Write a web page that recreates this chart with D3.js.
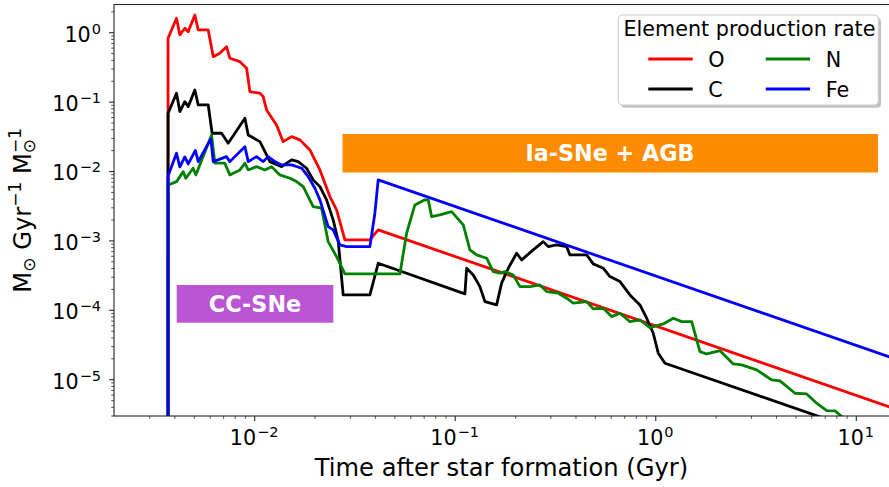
<!DOCTYPE html>
<html>
<head>
<meta charset="utf-8">
<script src="https://cdn.jsdelivr.net/npm/d3@7"></script>
<style>
  html, body { margin: 0; padding: 0; background: #fff; }
  svg { display: block; font-family: "DejaVu Sans", sans-serif; }
  text { white-space: pre; }
</style>
</head>
<body>
<svg id="chart" width="889" height="487"></svg>
<script>
// ── element production rates (Gyr, Msun/Gyr/Msun) ──
const oxygen = [
  [0.00372, 1e-9], [0.00372, 0.820], [0.00410, 1.591], [0.00426, 0.914], [0.00451, 1.142],
  [0.00469, 1.02], [0.00506, 1.775], [0.00526, 1.079], [0.00590, 1.079], [0.00625, 0.445],
  [0.00674, 0.498], [0.00728, 0.620], [0.00756, 0.422], [0.00849, 0.377], [0.00917, 0.303],
  [0.00952, 0.1393], [0.01068, 0.1321], [0.01109, 0.118], [0.01153, 0.0759], [0.01293, 0.0462],
  [0.01395, 0.0265], [0.01537, 0.0313], [0.01690, 0.0281], [0.01896, 0.0201], [0.02127, 0.01037],
  [0.02385, 4.28e-3], [0.02576, 2.75e-3], [0.02834, 1.017e-3], [0.03777, 1.017e-3],
  [0.04154, 1.417e-3], [15, 3.92e-6]
];
const carbon = [
  [0.00372, 1e-9], [0.00372, 0.0681], [0.00410, 0.1321], [0.00426, 0.0718], [0.00451, 0.1],
  [0.00469, 0.0847], [0.00506, 0.1474], [0.00526, 0.0896], [0.00590, 0.0896], [0.00617, 0.0350],
  [0.00688, 0.0350], [0.00742, 0.0252], [0.00899, 0.0576], [0.00934, 0.0331], [0.01068, 0.0265],
  [0.01153, 0.0171], [0.01198, 0.01366], [0.01370, 0.01157], [0.01537, 0.01445], [0.01658, 0.01366],
  [0.01825, 0.01097], [0.01969, 7.44e-3], [0.02127, 5.96e-3], [0.02297, 3.84e-3], [0.02477, 1.975e-3],
  [0.02624, 9.83e-4], [0.02779, 1.64e-4], [0.03777, 1.64e-4], [0.04154, 4.69e-4], [0.1124, 1.70e-4],
  [0.1147, 3.975e-4], [0.1237, 3.18e-4], [0.1335, 2.16e-4], [0.1415, 1.313e-4], [0.1618, 1.177e-4],
  [0.1713, 2.42e-4], [0.1849, 3.975e-4], [0.2035, 6.54e-4], [0.2156, 5.24e-4], [0.2463, 7.30e-4],
  [0.2763, 9.61e-4], [0.2926, 8.14e-4], [0.3222, 8.61e-4], [0.3615, 8.14e-4], [0.3755, 6.18e-4],
  [0.4550, 6.18e-4], [0.4907, 4.59e-4], [0.5504, 3.975e-4], [0.5943, 3.01e-4], [0.6668, 2.55e-4],
  [0.7478, 1.64e-4], [0.8389, 1.177e-4], [0.906, 7.57e-5], [0.977, 4.60e-5], [1.035, 2.37e-5],
  [1.118, 1.70e-5], [15, 1.267e-6]
];
const nitrogen = [
  [0.00372, 1e-9], [0.00372, 6.30e-3], [0.00410, 7.04e-3], [0.00443, 9.80e-3], [0.00456, 7.87e-3],
  [0.00496, 0.01097], [0.00512, 8.79e-3], [0.00613, 0.0331], [0.00637, 0.01296], [0.00714, 0.01296],
  [0.00756, 8.79e-3], [0.00849, 0.01037], [0.00899, 0.01296], [0.00934, 0.01037], [0.01028, 0.01157],
  [0.01131, 0.01037], [0.01221, 0.01157], [0.01343, 8.79e-3], [0.01507, 7.87e-3], [0.01627, 7.04e-3],
  [0.01756, 5.96e-3], [0.01969, 3.07e-3], [0.02169, 2.91e-3], [0.02339, 9.61e-4], [0.02576, 5.84e-4],
  [0.02834, 3.29e-4], [0.0533, 3.29e-4], [0.05756, 1.27e-3], [0.0633, 3.25e-3], [0.0710, 3.84e-3],
  [0.0738, 3.84e-3], [0.0767, 2.20e-3], [0.0844, 2.33e-3], [0.0965, 2.60e-3], [0.1103, 1.673e-3],
  [0.1191, 7.30e-4], [0.1286, 6.18e-4], [0.1443, 5.54e-4], [0.1556, 3.55e-4], [0.1680, 3.37e-4],
  [0.1780, 3.55e-4], [0.1958, 3.18e-4], [0.2114, 2.16e-4], [0.2371, 2.16e-4], [0.2661, 2.28e-4],
  [0.2873, 1.829e-4], [0.3282, 1.734e-4], [0.3615, 1.469e-4], [0.3899, 1.245e-4], [0.4550, 1.313e-4],
  [0.4907, 1.03e-4], [0.5504, 1.054e-4], [0.6060, 7.98e-5], [0.6668, 8.93e-5], [0.7478, 6.76e-5],
  [0.8389, 7.15e-5], [0.941, 5.54e-5], [1.096, 6.26e-5], [1.230, 7.57e-5], [1.354, 6.76e-5],
  [1.519, 6.76e-5], [1.671, 2.50e-5], [1.805, 2.31e-5], [2.102, 2.58e-5], [2.449, 1.66e-5],
  [2.697, 1.607e-5], [3.204, 1.361e-5], [3.806, 9.77e-6], [4.187, 9.45e-6], [4.976, 6.28e-6],
  [5.69, 6.14e-6], [6.38, 4.51e-6], [7.16, 3.53e-6], [7.88, 3.49e-6], [8.51, 2.89e-6], [9.36, 2.20e-6]
];
const iron = [
  [0.00372, 1e-9], [0.00372, 8.50e-3], [0.00410, 0.01805], [0.00426, 0.01146], [0.00451, 0.01596],
  [0.00469, 0.01266], [0.00509, 0.01981], [0.00526, 0.01366], [0.00608, 0.0290], [0.00625, 0.01366],
  [0.00728, 0.01612], [0.00756, 0.01366], [0.00899, 0.02246], [0.00934, 0.01366], [0.01028, 0.01612],
  [0.01109, 0.01366], [0.01174, 0.01612], [0.01268, 0.01366], [0.01370, 0.01224], [0.01537, 0.01224],
  [0.01724, 0.01097], [0.01859, 8.31e-3], [0.02008, 5.65e-3], [0.02127, 3.84e-3], [0.02339, 1.58e-3],
  [0.02477, 1.417e-3], [0.02675, 8.61e-4], [0.02889, 8.14e-4], [0.03777, 8.14e-4], [0.0400, 2.49e-3],
  [0.04154, 7.44e-3], [15, 2.06e-5]
];

const SERIES = [
  { name: "O",  data: oxygen,   color: "#ff0000" },
  { name: "C",  data: carbon,   color: "#000000" },
  { name: "N",  data: nitrogen, color: "#008000" },
  { name: "Fe", data: iron,     color: "#0000ff" }
];

const X_DOMAIN = [0.002, 14.64];
const Y_DOMAIN = [2.95e-6, 2.51];
const X_MAJOR = [1e-2, 1e-1, 1, 10];
const Y_MAJOR = [1e-5, 1e-4, 1e-3, 1e-2, 1e-1, 1];

// ── layout ──
const L = 114, R = 889, T = 4.5, B = 416;
const FS = 20.7, FS_SUP = 14.5, FS_LAB = 24.2, FS_BOX = 22.3;

const svg = d3.select("#chart");
const x = d3.scaleLog().domain(X_DOMAIN).range([L, R]);
const y = d3.scaleLog().domain(Y_DOMAIN).range([B, T]);

function minorTicks(dom) {
  const out = [];
  for (let d = -7; d <= 2; d++) for (let k = 2; k <= 9; k++) {
    const v = k * Math.pow(10, d);
    if (v > dom[0] && v < dom[1]) out.push(v);
  }
  return out;
}
const expo = v => { const e = Math.round(Math.log10(v)); return (e < 0 ? "\u2212" : "") + Math.abs(e); };

svg.append("defs").append("clipPath").attr("id", "clip")
  .append("rect").attr("x", L).attr("y", T).attr("width", R - L + 5).attr("height", B - T);

// ── annotation boxes ──
svg.append("rect").attr("x", 342.5).attr("y", 134).attr("width", 535.5).attr("height", 38.5)
  .attr("fill", "#ff8c00");
svg.append("text").attr("x", 610).attr("y", 160.5).attr("text-anchor", "middle")
  .attr("fill", "#fff").attr("font-size", FS_BOX).attr("font-weight", "bold").text("Ia-SNe + AGB");

svg.append("rect").attr("x", 176.7).attr("y", 285).attr("width", 156.6).attr("height", 37.7)
  .attr("fill", "#ba55d3");
svg.append("text").attr("x", 255).attr("y", 311.5).attr("text-anchor", "middle")
  .attr("fill", "#fff").attr("font-size", FS_BOX).attr("font-weight", "bold").text("CC-SNe");

// ── lines ──
const line = d3.line().x(d => x(d[0])).y(d => y(d[1]));
const lg = svg.append("g").attr("clip-path", "url(#clip)");
SERIES.forEach(s => {
  lg.append("path").datum(s.data).attr("d", line)
    .attr("fill", "none").attr("stroke", s.color).attr("stroke-width", 2.8)
    .attr("stroke-linejoin", "round");
});

// ── axes ──
const AX = "#262626";
function styleAxis(g, w) {
  g.select(".domain").remove();
  g.selectAll("line").attr("stroke", AX).attr("stroke-width", w);
  g.selectAll("text").remove();
}
svg.append("g").attr("transform", `translate(0,${B})`)
  .call(d3.axisBottom(x).tickValues(X_MAJOR).tickSize(4.9)).call(g => styleAxis(g, 1.1));
svg.append("g").attr("transform", `translate(0,${B})`)
  .call(d3.axisBottom(x).tickValues(minorTicks(X_DOMAIN)).tickSize(2.8)).call(g => styleAxis(g, 0.8));
svg.append("g").attr("transform", `translate(${L},0)`)
  .call(d3.axisLeft(y).tickValues(Y_MAJOR).tickSize(4.9)).call(g => styleAxis(g, 1.1));
svg.append("g").attr("transform", `translate(${L},0)`)
  .call(d3.axisLeft(y).tickValues(minorTicks(Y_DOMAIN)).tickSize(2.8)).call(g => styleAxis(g, 0.8));

// spines (right one sits just off the canvas)
svg.append("rect").attr("x", L).attr("y", T).attr("width", R - L + 3).attr("height", B - T)
  .attr("fill", "none").attr("stroke", AX).attr("stroke-width", 1.1);

// tick labels with superscripts
X_MAJOR.forEach(v => {
  const t = svg.append("text").attr("x", x(v)).attr("y", 445).attr("text-anchor", "middle")
    .attr("font-size", FS).attr("fill", "#000");
  t.append("tspan").text("10");
  t.append("tspan").attr("font-size", FS_SUP).attr("dx", 1).attr("dy", -8).text(expo(v));
});
Y_MAJOR.forEach(v => {
  const t = svg.append("text").attr("x", 101).attr("y", y(v) + 9.4).attr("text-anchor", "end")
    .attr("font-size", FS).attr("fill", "#000");
  t.append("tspan").text("10");
  t.append("tspan").attr("font-size", FS_SUP).attr("dx", 1).attr("dy", -8).text(expo(v));
});

// axis labels
svg.append("text").attr("x", (L + R) / 2).attr("y", 476).attr("text-anchor", "middle")
  .attr("font-size", FS_LAB).text("Time after star formation (Gyr)");

const yl = svg.append("text").attr("transform", `translate(31,${(T + B) / 2}) rotate(-90)`)
  .attr("text-anchor", "middle").attr("font-size", FS_LAB);
yl.append("tspan").text("M");
yl.append("tspan").attr("font-size", 17).attr("dy", 4).text("\u2299");
yl.append("tspan").attr("dy", -4).text(" Gyr");
yl.append("tspan").attr("font-size", 17).attr("dy", -10).text("\u22121");
yl.append("tspan").attr("dy", 10).text(" M");
yl.append("tspan").attr("font-size", 17).attr("dy", 4).text("\u2299");
yl.append("tspan").attr("font-size", 17).attr("dx", -14).attr("dy", -14).text("\u22121");

// ── legend ──
const leg = svg.append("g");
leg.append("rect").attr("x", 621).attr("y", 17.7).attr("width", 260).attr("height", 90).attr("rx", 4)
  .attr("fill", "#999").attr("opacity", 0.6);
leg.append("rect").attr("x", 618.3).attr("y", 15).attr("width", 260).attr("height", 90).attr("rx", 4)
  .attr("fill", "#fff").attr("stroke", "#cccccc").attr("stroke-width", 1);
leg.append("text").attr("x", 749.5).attr("y", 36).attr("text-anchor", "middle")
  .attr("font-size", FS).text("Element production rate");
SERIES.forEach((s, i) => {
  const col = Math.floor(i / 2), row = i % 2;
  const lx = 648.3 + col * 117.4, ly = 59 + row * 30;
  leg.append("line").attr("x1", lx).attr("x2", lx + 44.4).attr("y1", ly).attr("y2", ly)
    .attr("stroke", s.color).attr("stroke-width", 2.8);
  leg.append("text").attr("x", lx + 60).attr("y", ly + 7.5).attr("font-size", FS).text(s.name);
});
</script>
</body>
</html>
